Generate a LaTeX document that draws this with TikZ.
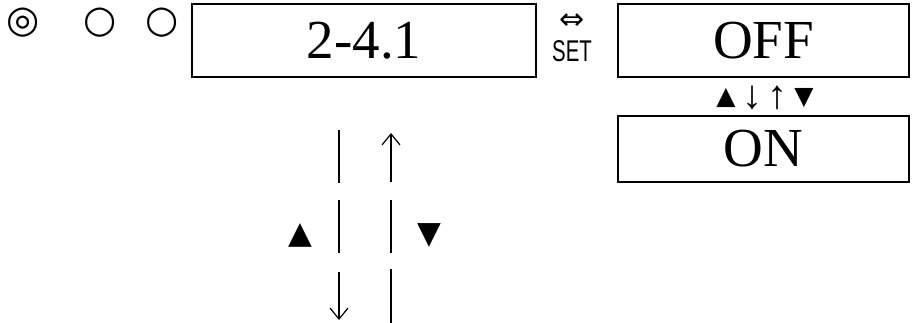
\documentclass[tikz,border=0pt]{standalone}
\usepackage{fontspec}
\setmainfont{Liberation Serif}
\newfontfamily\symfont{DejaVu Sans}
\newfontfamily\gothic{Liberation Sans}
\usepackage{graphicx}
\usetikzlibrary{arrows.meta, positioning}
\tikzset{
  %% LCD window
  lcd/.style={
    rectangle, draw=black, line width=2.2pt,
    inner sep=0pt, minimum height=73pt,
    font=\fontsize{55}{55}\selectfont
  },
  %% Key symbol
  sym/.style={inner sep=0pt, font=\symfont\fontsize{#1}{#1}\selectfont},
  sym/.default=20,
  %% Thin arrow glyph
  glyph/.style={inner sep=0pt, font=\fontsize{#1}{#1}\selectfont},
  glyph/.default=40,
  %% Flow bars
  bar/.style={draw=black, line width=2.4pt},
  thinarr/.style={-{Straight Barb[length=11pt,width=18pt]},
                  draw=black, line width=1.2pt},
}
\begin{document}
\begin{tikzpicture}[x=1pt, y=-1pt]
  \useasboundingbox (0,0) rectangle (912,323);
  % indicators
  \node[sym=38] (lampa) at (23,23) {◎};
  \node[sym=38] (lampb) at (100,23) {○};
  \node[sym=38] (lampc) at (162,23) {○};
  % windows
  \node[lcd, minimum width=344pt] (menu) at (364,40.5) {2-4.1};
  \node[lcd, minimum width=291pt] (offbox) at (763.5,40.5) {OFF};
  \node[lcd, minimum width=291pt, minimum height=66pt] (onbox) at (763.5,149) {ON};
  % set key
  \node[sym=30] (swap) at (572,22) {⇔};
  \node[inner sep=0pt, font=\gothic\fontsize{30}{30}\selectfont] (setkey) at (572,51)
    {\scalebox{0.68}[1]{SET}};
  % toggle keys
  \node[sym=25] (upkey) at (726,98) {▲};
  \node[glyph] (dnarr) at (752,98) {↓};
  \node[glyph] (uparr) at (777,98) {↑};
  \node[sym=25] (dnkey) at (804,98) {▼};
  % scroll keys
  \node[sym=31] (scrollup) at (300,235) {▲};
  \node[sym=31] (scrolldn) at (429,235) {▼};
  \coordinate (la) at (339,130);
  \coordinate (lb) at (339,183);
  \coordinate (lc) at (339,200);
  \coordinate (ld) at (339,253);
  \coordinate (le) at (339,272);
  \coordinate (lf) at (339,320);
  \coordinate (ra) at (391,133);
  \coordinate (rb) at (391,182);
  \coordinate (rc) at (391,200);
  \coordinate (rd) at (391,253);
  \coordinate (re) at (391,269);
  \coordinate (rf) at (391,323);
  \draw[bar] (la) -- (lb);
  \draw[bar] (lc) -- (ld);
  \draw[thinarr] (le) -- (lf);
  \draw[thinarr] (rb) -- (ra);
  \draw[bar] (rc) -- (rd);
  \draw[bar] (re) -- (rf);
\end{tikzpicture}
\end{document}
